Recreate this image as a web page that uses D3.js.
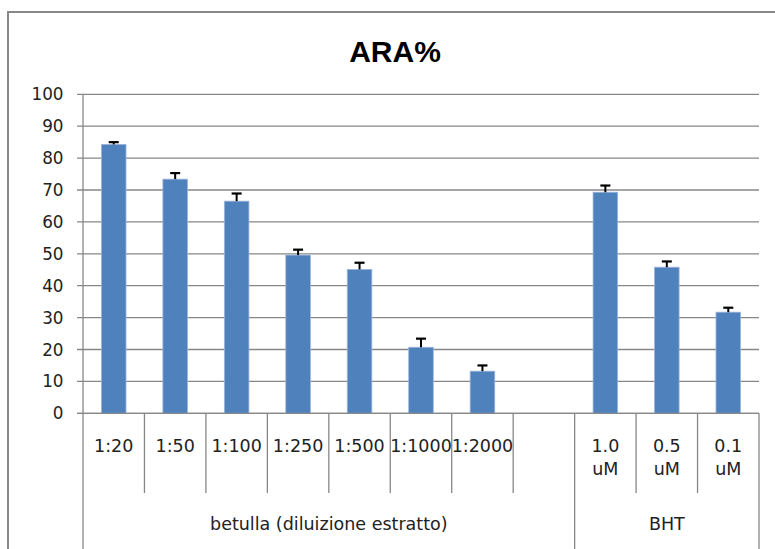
<!DOCTYPE html>
<html>
<head>
<meta charset="utf-8">
<script src="https://cdn.jsdelivr.net/npm/d3@7/dist/d3.min.js"></script>
<style>
  html, body { margin: 0; padding: 0; background: #fff; }
  svg { display: block; }
</style>
</head>
<body>
<script>
// ---- data ----
const title = "ARA%";
const categories = ["1:20", "1:50", "1:100", "1:250", "1:500", "1:1000", "1:2000", "", "1.0 uM", "0.5 uM", "0.1 uM"];
const values = [84.3, 73.4, 66.5, 49.6, 45.1, 20.7, 13.2, null, 69.3, 45.8, 31.7];
const errors = [0.7, 1.9, 2.4, 1.7, 2.1, 2.7, 1.8, null, 2.1, 1.8, 1.4];
const groupNames = ["betulla (diluizione estratto)", "BHT"];
const groupSizes = [8, 3];
const yTicks = [0, 10, 20, 30, 40, 50, 60, 70, 80, 90, 100];

// ---- layout ----
const W = 775, H = 549;
const plot = { left: 83, right: 759, top: 94.3, bottom: 413.3 };
const font = "'DejaVu Sans', sans-serif";

const svg = d3.select("body").append("svg").attr("width", W).attr("height", H);

// outer chart border (extends past the window right/bottom)
svg.append("rect").attr("x", 8).attr("y", 12).attr("width", 800).attr("height", 560)
  .attr("fill", "#fff").attr("stroke", "#888").attr("stroke-width", 2);

// title
svg.append("text").attr("x", 395).attr("y", 61.5).attr("text-anchor", "middle")
  .attr("font-family", "'Liberation Sans', Arial, sans-serif").attr("font-weight", "bold")
  .attr("font-size", 30).attr("fill", "#000").text(title);

const x = d3.scaleBand().domain(d3.range(categories.length))
  .range([plot.left, plot.right]).paddingInner(0.6).paddingOuter(0.3);
const step = x.step();
const y = d3.scaleLinear().domain([0, 100]).range([plot.bottom, plot.top]);

// gridlines + left ticks
const gridColor = "#878787";
svg.append("g").selectAll("line").data(yTicks).join("line")
  .attr("x1", plot.left - 6).attr("x2", plot.right)
  .attr("y1", d => y(d)).attr("y2", d => y(d))
  .attr("stroke", gridColor).attr("stroke-width", 1.3);

// y labels
svg.append("g").selectAll("text").data(yTicks).join("text")
  .attr("x", 63.5).attr("y", d => y(d)).attr("dy", "0.36em")
  .attr("text-anchor", "end").attr("font-family", font).attr("font-size", 16.8)
  .attr("fill", "#222").text(d => d);

// y axis line
svg.append("line").attr("x1", plot.left).attr("x2", plot.left)
  .attr("y1", plot.top).attr("y2", plot.bottom)
  .attr("stroke", gridColor).attr("stroke-width", 1.3);

// bars
const barData = categories.map((c, i) => ({ c, i, v: values[i], e: errors[i] })).filter(d => d.v != null);
svg.append("g").selectAll("rect").data(barData).join("rect")
  .attr("x", d => x(d.i)).attr("width", x.bandwidth())
  .attr("y", d => y(d.v)).attr("height", d => y(0) - y(d.v))
  .attr("fill", "#4F81BD").attr("stroke", "#9bb5da").attr("stroke-width", 0.8);

// error bars (upper)
const eg = svg.append("g");
eg.selectAll("line.stem").data(barData).join("line").attr("class", "stem")
  .attr("x1", d => x(d.i) + x.bandwidth() / 2).attr("x2", d => x(d.i) + x.bandwidth() / 2)
  .attr("y1", d => y(d.v)).attr("y2", d => y(d.v + d.e))
  .attr("stroke", "#000").attr("stroke-width", 2);
eg.selectAll("line.cap").data(barData).join("line").attr("class", "cap")
  .attr("x1", d => x(d.i) + x.bandwidth() / 2 - 5).attr("x2", d => x(d.i) + x.bandwidth() / 2 + 5)
  .attr("y1", d => y(d.v + d.e)).attr("y2", d => y(d.v + d.e))
  .attr("stroke", "#000").attr("stroke-width", 2.2);

// x axis line
svg.append("line").attr("x1", plot.left - 6).attr("x2", plot.right)
  .attr("y1", plot.bottom).attr("y2", plot.bottom)
  .attr("stroke", gridColor).attr("stroke-width", 1.3);

// category separators
const groupBounds = [0];
groupSizes.forEach(s => groupBounds.push(groupBounds[groupBounds.length - 1] + s));
const boundaries = d3.range(categories.length + 1);
svg.append("g").selectAll("line").data(boundaries).join("line")
  .attr("x1", b => plot.left + b * step).attr("x2", b => plot.left + b * step)
  .attr("y1", plot.bottom)
  .attr("y2", b => groupBounds.includes(b) ? H : 493)
  .attr("stroke", gridColor).attr("stroke-width", 1.3);

// category labels (wrapped on spaces)
const cl = svg.append("g").attr("font-family", font).attr("font-size", 17.5).attr("fill", "#222");
categories.forEach((c, i) => {
  if (!c) return;
  const lines = c.split(" ");
  const t = cl.append("text").attr("text-anchor", "middle");
  lines.forEach((ln, k) => {
    t.append("tspan").attr("x", x(i) + x.bandwidth() / 2).attr("y", 451.5 + k * 23.5).text(ln);
  });
});

// group labels
groupNames.forEach((g, gi) => {
  const a = plot.left + groupBounds[gi] * step, b = plot.left + groupBounds[gi + 1] * step;
  cl.append("text").attr("x", (a + b) / 2).attr("y", 530).attr("text-anchor", "middle").text(g);
});
</script>
</body>
</html>
